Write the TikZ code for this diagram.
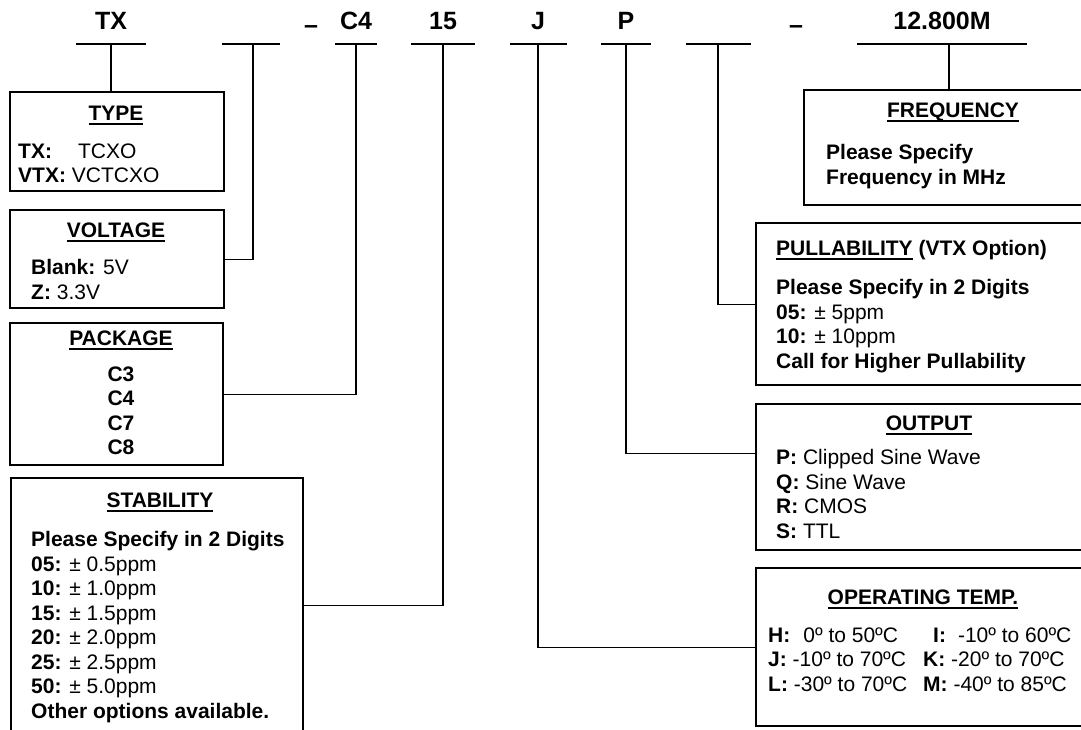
\documentclass[tikz,border=0pt]{standalone}
\usepackage{fontspec}
\setmainfont{Liberation Sans}
\usepackage{tikz}
\usetikzlibrary{positioning, calc}

% underline for box titles
\newcommand{\headul}[1]{\setbox0\hbox{#1}\rlap{\rule[-4.5pt]{\wd0}{1.8pt}}\box0\relax}

\begin{document}
\begin{tikzpicture}[x=1pt, y=-1pt,
  optbox/.style={draw, line width=2.4pt, inner sep=0pt, anchor=north west},
  partbar/.style={line width=2.8pt},
  link/.style={line width=1.3pt},
  partlbl/.style={font=\fontsize{25}{30}\selectfont\bfseries, anchor=base, inner sep=0pt},
  boxhead/.style={font=\fontsize{21}{24.5}\selectfont\bfseries, anchor=base, inner sep=0pt},
  boxtext/.style={font=\fontsize{21}{24.5}\selectfont, align=left, anchor=north west, inner sep=0pt}]
  \useasboundingbox (0,0) rectangle (1081,730);

  % part number
  \node[partlbl] (ltx)   at (111,30) {TX};
  \node[partlbl] (ldash) at (311,34) {–};
  \node[partlbl] (lpack) at (356,30) {C4};
  \node[partlbl] (lstab) at (443,30) {15};
  \node[partlbl] (ltemp) at (538,30) {J};
  \node[partlbl] (lout)  at (626,30) {P};
  \node[partlbl] (ldsh2) at (796,34) {–};
  \node[partlbl] (lfreq) at (942,30) {12.800M};

  % bars under each field
  \foreach \n/\l/\r/\c in {btx/76/146/111, bvolt/222/280/253, bpack/335/377/356,
      bstab/411/475/443, btemp/510/567/538, bout/601/651/626, bpull/686/751/718,
      bfreq/857/1027/949} {
    \draw[partbar] (\l,44) -- (\r,44);
    \coordinate (\n) at (\c,44);
  }

  % option boxes, left
  \node[optbox, minimum width=214, minimum height=99]  (type) at (9,91) {};
  \node[optbox, minimum width=214, minimum height=98]  (volt) at (9,209) {};
  \node[optbox, minimum width=213, minimum height=142] (pack) at (9,322) {};
  \node[optbox, minimum width=292, minimum height=254] (stab) at (10,477) {};

  % option boxes, right
  \node[optbox, minimum width=297, minimum height=115] (freq) at (803,89) {};
  \node[optbox, minimum width=345, minimum height=162] (pull) at (755,222) {};
  \node[optbox, minimum width=345, minimum height=146] (outp) at (755,403) {};
  \node[optbox, minimum width=345, minimum height=158] (temp) at (755,567) {};

  % connectors
  \draw[link] (btx) -- (btx |- type.north);
  \draw[link] (bvolt) |- (volt.east);
  \draw[link] (bpack) |- (pack.east);
  \draw[link] (bstab) |- (stab.east);
  \draw[link] (bfreq) -- (bfreq |- freq.north);
  \draw[link] (bpull) |- (pull.west);
  \draw[link] (bout) |- ([yshift=24pt]outp.west);
  \draw[link] (btemp) |- (temp.west);

  % TYPE
  \node[boxhead] (htype) at (116,120.5) {\headul{TYPE}};
  \node[boxtext] (ttype) at (18,143.5)
    {\textbf{TX:}\hspace{26pt}TCXO\\ \textbf{VTX:} VCTCXO};

  % VOLTAGE
  \node[boxhead] (hvolt) at (116,237.5) {\headul{VOLTAGE}};
  \node[boxtext] (tvolt) at (31,259.5)
    {\textbf{Blank:} 5V\\ \textbf{Z:} 3.3V};

  % PACKAGE
  \node[boxhead] (hpack) at (121,345.5) {\headul{PACKAGE}};
  \node[boxtext, align=center, anchor=north] (tpack) at (121,366.5)
    {\textbf{C3}\\ \textbf{C4}\\ \textbf{C7}\\ \textbf{C8}};

  % STABILITY
  \node[boxhead] (hstab) at (160,507.5) {\headul{STABILITY}};
  \node[boxtext] (tstab) at (31,531.5)
    {\textbf{Please Specify in 2 Digits}\\
     \textbf{05:} ± 0.5ppm\\
     \textbf{10:} ± 1.0ppm\\
     \textbf{15:} ± 1.5ppm\\
     \textbf{20:} ± 2.0ppm\\
     \textbf{25:} ± 2.5ppm\\
     \textbf{50:} ± 5.0ppm\\
     \textbf{Other options available.}};

  % FREQUENCY
  \node[boxhead] (hfreq) at (953,117.5) {\headul{FREQUENCY}};
  \node[boxtext] (tfreq) at (826,144.5)
    {\textbf{Please Specify}\\ \textbf{Frequency in MHz}};

  % PULLABILITY
  \node[boxhead, anchor=base west] (hpull) at (776,255.5)
    {\headul{PULLABILITY} (VTX Option)};
  \node[boxtext] (tpull) at (776,279.5)
    {\textbf{Please Specify in 2 Digits}\\
     \textbf{05:} ± 5ppm\\
     \textbf{10:} ± 10ppm\\
     \textbf{Call for Higher Pullability}};

  % OUTPUT
  \node[boxhead] (hout) at (929,430.5) {\headul{OUTPUT}};
  \node[boxtext] (tout) at (776,449.5)
    {\textbf{P:} Clipped Sine Wave\\
     \textbf{Q:} Sine Wave\\
     \textbf{R:} CMOS\\
     \textbf{S:} TTL};

  % OPERATING TEMP.
  \node[boxhead] (htemp) at (923,604.5) {\headul{OPERATING TEMP.}};
  \node[boxtext] (ttemp) at (768,627.5)
    {\textbf{H:}\hspace{13pt}0º to 50ºC\\
     \textbf{J:} -10º to 70ºC\\
     \textbf{L:} -30º to 70ºC};
  \node[boxtext] (ttemp2) at (923,627.5)
    {\hspace*{10pt}\textbf{I:}\hspace{12pt}-10º to 60ºC\\
     \textbf{K:} -20º to 70ºC\\
     \textbf{M:} -40º to 85ºC};
\end{tikzpicture}
\end{document}
